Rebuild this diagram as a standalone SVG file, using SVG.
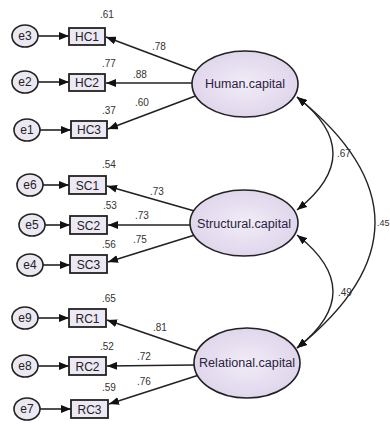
<svg xmlns="http://www.w3.org/2000/svg" width="390" height="424" viewBox="0 0 390 424">
<style>
.err{fill:#ece8f2;stroke:#222;stroke-width:1.6}
.obs{fill:#ece8f4;stroke:#222;stroke-width:1.8}
.lat{fill:url(#lg);stroke:#222;stroke-width:1.6}
.t{font-family:"Liberation Sans",Arial,sans-serif;font-size:12px;fill:#222;text-anchor:middle}
.lt{font-family:"Liberation Sans",Arial,sans-serif;font-size:12px;fill:#2a2240;text-anchor:middle}
.n{font-family:"Liberation Sans",Arial,sans-serif;font-size:10px;fill:#333}
.ln{stroke:#222;stroke-width:1.6;fill:none;marker-end:url(#ah)}
.cv{stroke:#222;stroke-width:1.4;fill:none;marker-start:url(#ah);marker-end:url(#ah)}
</style>
<defs>
<radialGradient id="lg" cx="0.5" cy="0.5" r="0.6">
<stop offset="0" stop-color="#f1ecf7"/>
<stop offset="1" stop-color="#ddd2ea"/>
</radialGradient>
<marker id="ah" viewBox="0 0 10 8" refX="10" refY="4" markerWidth="10" markerHeight="8" markerUnits="userSpaceOnUse" orient="auto-start-reverse">
<path d="M0,0 L10,4 L0,8 Z" fill="#111"/>
</marker>
</defs>
<rect width="390" height="424" fill="#ffffff"/>
<g id="connectors">
<line class="ln" x1="38" y1="36" x2="69" y2="36"/>
<line class="ln" x1="38" y1="82" x2="69" y2="82"/>
<line class="ln" x1="40" y1="130" x2="71" y2="130"/>
<line class="ln" x1="43" y1="185" x2="69" y2="185"/>
<line class="ln" x1="45" y1="225" x2="70" y2="225"/>
<line class="ln" x1="43" y1="265" x2="70" y2="265"/>
<line class="ln" x1="38" y1="318" x2="69" y2="318"/>
<line class="ln" x1="38" y1="366" x2="69" y2="366"/>
<line class="ln" x1="40" y1="409" x2="71" y2="409"/>
<line class="ln" x1="199" y1="72" x2="106" y2="37"/>
<line class="ln" x1="192" y1="83" x2="106" y2="83"/>
<line class="ln" x1="198" y1="95" x2="108" y2="129"/>
<line class="ln" x1="198" y1="212" x2="107" y2="186"/>
<line class="ln" x1="190" y1="225" x2="108" y2="225"/>
<line class="ln" x1="198" y1="234" x2="108" y2="262"/>
<line class="ln" x1="200" y1="352" x2="107" y2="320"/>
<line class="ln" x1="194" y1="365" x2="107" y2="366"/>
<line class="ln" x1="199" y1="375" x2="109" y2="404"/>
<path class="cv" d="M297,97 Q369,153.5 297,210"/>
<path class="cv" d="M297,97 Q453,222.5 297,348"/>
<path class="cv" d="M297,235 Q369,291.5 297,348"/>
</g>
<g id="Human.capital"><ellipse class="lat" cx="245" cy="84" rx="53" ry="33"/><text class="lt" x="245" y="88" textLength="80" lengthAdjust="spacingAndGlyphs">Human.capital</text></g>
<g id="Structural.capital"><ellipse class="lat" cx="244" cy="223" rx="54" ry="33"/><text class="lt" x="244" y="228" textLength="94" lengthAdjust="spacingAndGlyphs">Structural.capital</text></g>
<g id="Relational.capital"><ellipse class="lat" cx="247" cy="363" rx="53" ry="35"/><text class="lt" x="247" y="367" textLength="96" lengthAdjust="spacingAndGlyphs">Relational.capital</text></g>
<g id="e3"><ellipse class="err" cx="25" cy="36" rx="13" ry="11"/><text class="t" x="25" y="40">e3</text></g>
<g id="e2"><ellipse class="err" cx="25" cy="82" rx="13" ry="11"/><text class="t" x="25" y="86">e2</text></g>
<g id="e1"><ellipse class="err" cx="27" cy="130" rx="13" ry="11"/><text class="t" x="27" y="134">e1</text></g>
<g id="e6"><ellipse class="err" cx="30" cy="185" rx="13" ry="11"/><text class="t" x="30" y="189">e6</text></g>
<g id="e5"><ellipse class="err" cx="32" cy="225" rx="13" ry="11"/><text class="t" x="32" y="229">e5</text></g>
<g id="e4"><ellipse class="err" cx="30" cy="265" rx="13" ry="11"/><text class="t" x="30" y="269">e4</text></g>
<g id="e9"><ellipse class="err" cx="25" cy="318" rx="13" ry="11"/><text class="t" x="25" y="322">e9</text></g>
<g id="e8"><ellipse class="err" cx="25" cy="366" rx="13" ry="11"/><text class="t" x="25" y="370">e8</text></g>
<g id="e7"><ellipse class="err" cx="27" cy="409" rx="13" ry="11"/><text class="t" x="27" y="413">e7</text></g>
<g id="HC1"><rect class="obs" x="69" y="28" width="36" height="17"/><text class="t" x="87" y="41">HC1</text></g>
<g id="HC2"><rect class="obs" x="69" y="74" width="36" height="17"/><text class="t" x="87" y="87">HC2</text></g>
<g id="HC3"><rect class="obs" x="71" y="121" width="36" height="17"/><text class="t" x="89" y="134">HC3</text></g>
<g id="SC1"><rect class="obs" x="69" y="176" width="37" height="18"/><text class="t" x="87.5" y="189.5">SC1</text></g>
<g id="SC2"><rect class="obs" x="70" y="216" width="37" height="18"/><text class="t" x="88.5" y="229.5">SC2</text></g>
<g id="SC3"><rect class="obs" x="70" y="255" width="37" height="18"/><text class="t" x="88.5" y="268.5">SC3</text></g>
<g id="RC1"><rect class="obs" x="69" y="309" width="37" height="18"/><text class="t" x="87.5" y="322.5">RC1</text></g>
<g id="RC2"><rect class="obs" x="69" y="357" width="37" height="18"/><text class="t" x="87.5" y="370.5">RC2</text></g>
<g id="RC3"><rect class="obs" x="71" y="400" width="37" height="18"/><text class="t" x="89.5" y="413.5">RC3</text></g>
<g id="labels">
<text class="n" x="100" y="18">.61</text>
<text class="n" x="102" y="67">.77</text>
<text class="n" x="102" y="114">.37</text>
<text class="n" x="152" y="50">.78</text>
<text class="n" x="133" y="78">.88</text>
<text class="n" x="135" y="106">.60</text>
<text class="n" x="102" y="168">.54</text>
<text class="n" x="103" y="209">.53</text>
<text class="n" x="102" y="248">.56</text>
<text class="n" x="150" y="195">.73</text>
<text class="n" x="135" y="219">.73</text>
<text class="n" x="133" y="243">.75</text>
<text class="n" x="102" y="302">.65</text>
<text class="n" x="100" y="350">.52</text>
<text class="n" x="102" y="391">.59</text>
<text class="n" x="153" y="331">.81</text>
<text class="n" x="137" y="360">.72</text>
<text class="n" x="137" y="385">.76</text>
<text class="n" x="337" y="157">.67</text>
<text class="n" x="338" y="296">.49</text>
<text class="n" x="377" y="226" style="font-size:9px">.45</text>
</g>
</svg>
